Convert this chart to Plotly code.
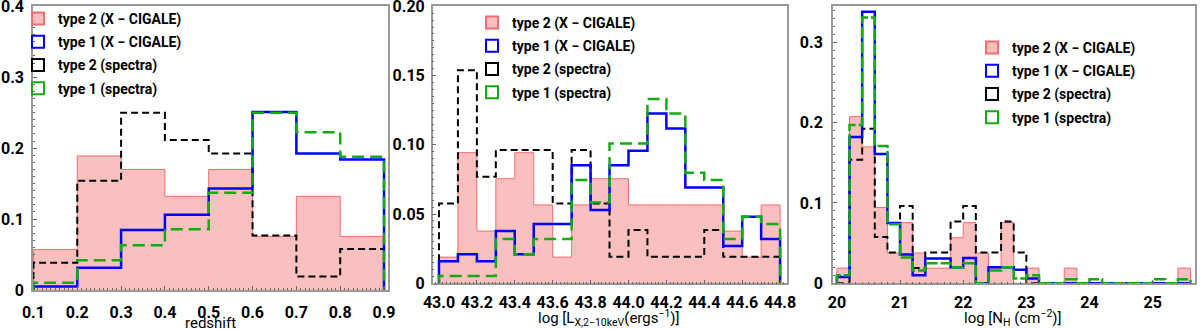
from plotly.subplots import make_subplots
import plotly.graph_objects as go

# --- panel 1 : redshift
z_edges = [0.1, 0.2, 0.3, 0.4, 0.5, 0.6, 0.7, 0.8, 0.9]
z_t2_cigale = [0.057, 0.189, 0.170, 0.132, 0.170, 0.0755, 0.132, 0.0755]
z_t1_cigale = [0.005, 0.0315, 0.0845, 0.106, 0.143, 0.251, 0.1925, 0.184]
z_t2_spec = [0.0385, 0.154, 0.25, 0.2115, 0.1923, 0.0769, 0.0192, 0.0577]
z_t1_spec = [0.0103, 0.042, 0.063, 0.0855, 0.137, 0.25, 0.2225, 0.188]

# --- panel 2 : log Lx
lx_edges = [43.0, 43.1, 43.2, 43.3, 43.4, 43.5, 43.6, 43.7, 43.8, 43.9,
            44.0, 44.1, 44.2, 44.3, 44.4, 44.5, 44.6, 44.7, 44.8]
lx_t2_cigale = [0.0189, 0.0943, 0.0377, 0.0755, 0.0943, 0.0566, 0.0189, 0.0566, 0.0755,
                0.0755, 0.0566, 0.0566, 0.0566, 0.0566, 0.0566, 0.0377, 0.0189, 0.0566]
lx_t1_cigale = [0.016, 0.021, 0.016, 0.0377, 0.021, 0.0428, 0.0428, 0.0853, 0.053,
                0.0853, 0.0957, 0.1226, 0.1118, 0.0692, 0.0692, 0.027, 0.048, 0.032]
lx_t2_spec = [0.0577, 0.1538, 0.0769, 0.0962, 0.0962, 0.0962, 0.0577, 0.0962, 0.0577,
              0.0192, 0.0385, 0.0192, 0.0192, 0.0192, 0.0385, 0.0192, 0.0192, 0.0192]
lx_t1_spec = [0.0053, 0.0053, 0.0053, 0.032, 0.021, 0.032, 0.032, 0.0745, 0.0584,
              0.101, 0.101, 0.133, 0.1226, 0.0798, 0.0745, 0.032, 0.048, 0.0428]

# --- panel 3 : log NH
nh_edges = [20.0, 20.2, 20.4, 20.6, 20.8, 21.0, 21.2, 21.4, 21.6, 21.8, 22.0, 22.2, 22.4, 22.6, 22.8,
            23.0, 23.2, 23.4, 23.6, 23.8, 24.0, 24.2, 24.4, 24.6, 24.8, 25.0, 25.2, 25.4, 25.6]
nh_t2_cigale = [0.0189, 0.2075, 0.1698, 0.0943, 0.0377, 0.0755, 0.0377, 0.0189, 0.0189, 0.0566,
                0.0755, 0.0377, 0.0189, 0.0755, 0, 0.0189, 0, 0, 0.0189, 0,
                0, 0, 0, 0, 0, 0, 0, 0.0189]
nh_t1_cigale = [0.008, 0.182, 0.338, 0.161, 0.075, 0.036, 0.010, 0.031, 0.031, 0.020,
                0.0315, 0, 0.020, 0.020, 0.017, 0.006, 0, 0, 0, 0,
                0, 0, 0, 0, 0, 0, 0, 0]
nh_t2_spec = [0, 0.1538, 0.1923, 0.0577, 0.0385, 0.0962, 0.0192, 0.0385, 0.0385, 0.0769,
              0.0962, 0.0385, 0.0385, 0.0769, 0.0385, 0, 0, 0, 0, 0,
              0, 0, 0, 0, 0, 0, 0, 0]
nh_t1_spec = [0.010, 0.197, 0.331, 0.171, 0.0735, 0.032, 0.016, 0.025, 0.025, 0.020,
              0.025, 0, 0.016, 0.020, 0.006, 0.010, 0, 0, 0.005, 0,
              0.005, 0, 0, 0, 0, 0.005, 0, 0.005]

names = ["type 2 (X − CIGALE)", "type 1 (X − CIGALE)", "type 2 (spectra)", "type 1 (spectra)"]
x_titles = ["redshift", "log [L<sub>X,2−10keV</sub>(ergs<sup>−1</sup>)]", "log [N<sub>H</sub> (cm<sup>−2</sup>)]"]

z_ticks = [0.1, 0.2, 0.3, 0.4, 0.5, 0.6, 0.7, 0.8, 0.9]
lx_ticks = [43.0, 43.2, 43.4, 43.6, 43.8, 44.0, 44.2, 44.4, 44.6, 44.8]
nh_ticks = [20, 21, 22, 23, 24, 25]
y1_ticks, y1_text = [0, 0.1, 0.2, 0.3, 0.4], ["0", "0.1", "0.2", "0.3", "0.4"]
y2_ticks, y2_text = [0, 0.05, 0.10, 0.15, 0.20], ["0", "0.05", "0.10", "0.15", "0.20"]
y3_ticks, y3_text = [0, 0.1, 0.2, 0.3], ["0", "0.1", "0.2", "0.3"]

PINK_FILL = "rgba(248,170,170,0.75)"
PINK_LINE = "rgb(240,110,110)"
BLUE = "rgb(0,0,255)"
GREEN = "rgb(20,170,20)"
BLACK = "black"
FONT = "Roboto, Lato, sans-serif"


def step(edges, vals):
    # matplotlib 'step' histogram outline: up from 0, across, down to 0
    xs = [edges[0]] + list(edges[:-1]) + [edges[-1]]
    ys = [0] + list(vals) + [0]
    return xs, ys


fig = make_subplots(rows=1, cols=3)

panels = [
    (1, z_edges, [z_t2_cigale, z_t1_cigale, z_t2_spec, z_t1_spec], "legend", "12px,6px"),
    (2, lx_edges, [lx_t2_cigale, lx_t1_cigale, lx_t2_spec, lx_t1_spec], "legend2", "12px,6px"),
    (3, nh_edges, [nh_t2_cigale, nh_t1_cigale, nh_t2_spec, nh_t1_spec], "legend3", "12px,3px"),
]

for col, edges, series, leg, gdash in panels:
    xs, ys = step(edges, series[0])
    fig.add_trace(go.Scatter(x=xs, y=ys, mode="lines", line=dict(color=PINK_LINE, width=1, shape="hv"),
                             fill="tozeroy", fillcolor=PINK_FILL, showlegend=False), row=1, col=col)
    xs, ys = step(edges, series[2])
    fig.add_trace(go.Scatter(x=xs, y=ys, mode="lines", line=dict(color=BLACK, width=2, dash="7px,4px", shape="hv"),
                             showlegend=False), row=1, col=col)
    xs, ys = step(edges, series[1])
    fig.add_trace(go.Scatter(x=xs, y=ys, mode="lines", line=dict(color=BLUE, width=2.5, shape="hv"),
                             showlegend=False), row=1, col=col)
    xs, ys = step(edges, series[3])
    fig.add_trace(go.Scatter(x=xs, y=ys, mode="lines", line=dict(color=GREEN, width=2.5, dash=gdash, shape="hv"),
                             showlegend=False), row=1, col=col)

    # legend-only entries (box icons)
    icons = [(PINK_FILL, PINK_LINE), ("rgba(0,0,0,0)", BLUE), ("rgba(0,0,0,0)", BLACK), ("rgba(0,0,0,0)", GREEN)]
    for i, (nm, (fc, lc)) in enumerate(zip(names, icons)):
        fig.add_trace(go.Bar(x=[None], y=[None], name=nm, legend=leg, legendgroup=f"{leg}_{i}",
                             marker=dict(color=fc, line=dict(color=lc, width=2))), row=1, col=col)

axis_common = dict(showline=True, mirror=True, linecolor="#999999", linewidth=1.5, automargin=False,
                   ticks="inside", ticklen=4, tickcolor="#666666", showgrid=False, zeroline=False,
                   tickangle=0, tickfont=dict(family=FONT, size=16, color="black", weight="bold"))

fig.update_xaxes(**axis_common)
fig.update_yaxes(**axis_common)

title_font = dict(family=FONT, size=15, color="black")
leg_font = dict(family=FONT, size=14, color="black", weight="bold")

# axis titles as paper annotations (title standoff is ignored without automargin)
x_title_pos = [(210 / 1200, 6 / 329), (609 / 1200, 11 / 329), (1013 / 1200, 11 / 329)]
annotations = [dict(text=t, x=px, y=py, xref="paper", yref="paper", xanchor="center", yanchor="middle",
                    showarrow=False, font=title_font)
               for t, (px, py) in zip(x_titles, x_title_pos)]

fig.update_layout(
    xaxis=dict(domain=[0.0275, 0.3233], range=[0.099, 0.909], tickvals=z_ticks, ticklabelstandoff=7,
               minor=dict(ticks="inside", ticklen=2, dtick=0.01, tickcolor="#666666")),
    yaxis=dict(domain=[0.1185, 0.9818], range=[0, 0.4004], tickvals=y1_ticks, ticktext=y1_text,
               ticklabelstandoff=4,
               minor=dict(ticks="inside", ticklen=2, dtick=0.01, tickcolor="#666666")),
    xaxis2=dict(domain=[0.3606, 0.6556], range=[42.967, 44.835], tickvals=lx_ticks, ticklabelstandoff=4,
                ticktext=[f"{v:.1f}" for v in lx_ticks],
                minor=dict(ticks="inside", ticklen=2, dtick=0.02, tickcolor="#666666")),
    yaxis2=dict(domain=[0.1389, 0.9818], range=[0, 0.2002], tickvals=y2_ticks, ticktext=y2_text,
                ticklabelstandoff=3,
                minor=dict(ticks="inside", ticklen=2, dtick=0.005, tickcolor="#666666")),
    xaxis3=dict(domain=[0.694, 0.9958], range=[19.935, 25.67], tickvals=nh_ticks, ticklabelstandoff=4,
                minor=dict(ticks="inside", ticklen=2, dtick=0.1, tickcolor="#666666")),
    yaxis3=dict(domain=[0.1389, 0.9818], range=[0, 0.3452], tickvals=y3_ticks, ticktext=y3_text,
                ticklabelstandoff=5,
                minor=dict(ticks="inside", ticklen=2, dtick=0.01, tickcolor="#666666")),
    annotations=annotations,
    legend=dict(x=18 / 1200, y=1 - 3 / 329, xanchor="left", yanchor="top", bgcolor="rgba(0,0,0,0)",
                font=leg_font, tracegroupgap=2),
    legend2=dict(x=472 / 1200, y=1 - 7 / 329, xanchor="left", yanchor="top", bgcolor="rgba(0,0,0,0)",
                 font=leg_font, tracegroupgap=2),
    legend3=dict(x=972 / 1200, y=1 - 32 / 329, xanchor="left", yanchor="top", bgcolor="rgba(0,0,0,0)",
                 font=leg_font, tracegroupgap=2),
    width=1200, height=329,
    margin=dict(l=0, r=0, t=0, b=0),
    plot_bgcolor="white", paper_bgcolor="white",
    barmode="overlay",
)

# the page body has a default 8px margin; remove it so the figure sits at the window origin
fig.write_html("out.html", config={"displayModeBar": False},
               post_script="document.body.style.margin='0';")
